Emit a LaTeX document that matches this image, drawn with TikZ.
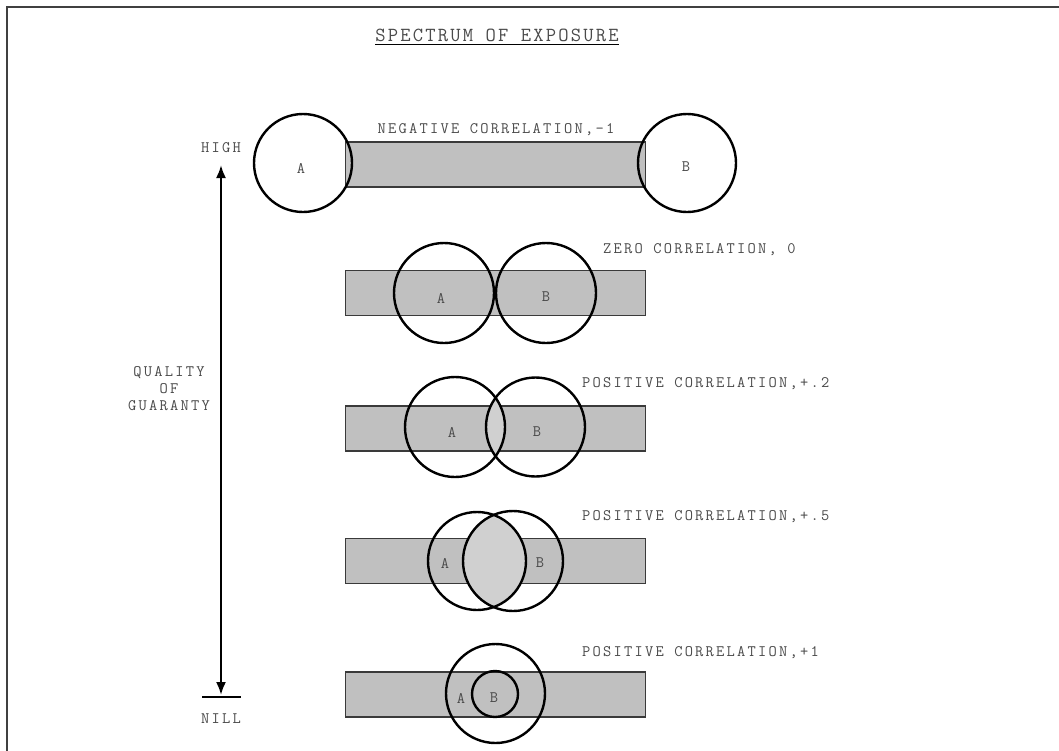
\documentclass[tikz,border=0pt]{standalone}
\usepackage{fontspec}
\usetikzlibrary{arrows.meta}
\newfontfamily\labfont{Latin Modern Mono}[LetterSpace=14]
\newfontfamily\titfont{Latin Modern Mono}[LetterSpace=11]
\definecolor{txt}{HTML}{4A4A4A}
\definecolor{barfill}{HTML}{C0C0C0}
\definecolor{barline}{HTML}{3A3A3A}
\definecolor{lensfill}{HTML}{D0D0D0}
\tikzset{
  lab/.style={font=\labfont\fontsize{16}{17}\selectfont, text=txt, inner sep=0pt},
  bar/.style={draw=barline, line width=1.5pt, fill=barfill, minimum width=300pt, minimum height=45pt, inner sep=0pt},
  circ/.style={draw=black, line width=2.4pt, circle, inner sep=0pt},
  axis/.style={line width=2.2pt, {Latex[length=13pt,width=10pt]}-{Latex[length=13pt,width=10pt]}}
}
\begin{document}
\begin{tikzpicture}[x=1pt,y=-1pt]
\useasboundingbox (0,0) rectangle (1059,750);
% frame
\coordinate (fbl) at (7,760);
\coordinate (ftl) at (7,7);
\coordinate (ftr) at (1070,7);
\draw[line width=2pt, black!75] (fbl) -- (ftl) -- (ftr);
% title
\node[inner sep=0pt, text=txt, font=\titfont\fontsize{20}{21}\selectfont] (title) at (497,35) {SPECTRUM OF EXPOSURE};
\draw[line width=1.4pt] ([yshift=-3pt]title.south west) -- ([yshift=-3pt]title.south east);
% axis
\node[lab] (high) at (221,148) {HIGH};
\node[lab] (nill) at (221,719) {NILL};
\coordinate (atop) at (221,165);
\coordinate (abot) at (221,695);
\draw[axis] (atop) -- (abot);
\coordinate (tl) at (202,697);
\coordinate (tr) at (241,697);
\draw[line width=1.3pt] (tl) -- (tr);
\node[lab, align=center] (qual) at (169,389) {QUALITY\\[0pt]OF\\[0pt]GUARANTY};
% row 1
\node[bar] (r1) at (495.5,164.5) {};
\node[circ, minimum size=98pt] (a1) at (303,163) {};
\node[circ, minimum size=98pt] (b1) at (687,163) {};
\node[lab] (la1) at (301,168) {A};
\node[lab] (lb1) at (686,167) {B};
\node[lab] (t1) at (496,130) {NEGATIVE CORRELATION,-1};
% row 2
\node[bar] (r2) at (495.5,293) {};
\node[circ, minimum size=100pt] (a2) at (444,293) {};
\node[circ, minimum size=100pt] (b2) at (546,293) {};
\node[lab] (la2) at (441,298) {A};
\node[lab] (lb2) at (546,297) {B};
\node[lab, anchor=west] (t2) at (603,250) {ZERO CORRELATION, 0};
% row 3
\node[bar] (r3) at (495.5,428.5) {};
\begin{scope}
  \clip (455,427) circle[radius=50];
  \fill[lensfill] (535.5,427) circle[radius=49.5];
\end{scope}
\node[circ, minimum size=100pt] (a3) at (455,427) {};
\node[circ, minimum size=99pt] (b3) at (535.5,427) {};
\node[lab] (la3) at (452,432) {A};
\node[lab] (lb3) at (537,432) {B};
\node[lab, anchor=west] (t3) at (582,384) {POSITIVE CORRELATION,+.2};
% row 4
\node[bar] (r4) at (495.5,561) {};
\begin{scope}
  \clip (477,561) circle[radius=49];
  \fill[lensfill] (513,561) circle[radius=50];
\end{scope}
\node[circ, minimum size=98pt] (a4) at (477,561) {};
\node[circ, minimum size=100pt] (b4) at (513,561) {};
\node[lab] (la4) at (445,563) {A};
\node[lab] (lb4) at (540,563) {B};
\node[lab, anchor=west] (t4) at (582,517) {POSITIVE CORRELATION,+.5};
% row 5
\node[bar] (r5) at (495.5,694.5) {};
\node[circ, minimum size=99pt] (a5) at (495.5,693.5) {};
\node[circ, minimum size=46pt] (b5) at (495,694) {};
\node[lab] (la5) at (461,698) {A};
\node[lab] (lb5) at (494,698) {B};
\node[lab, anchor=west] (t5) at (582,653) {POSITIVE CORRELATION,+1};
\end{tikzpicture}
\end{document}
